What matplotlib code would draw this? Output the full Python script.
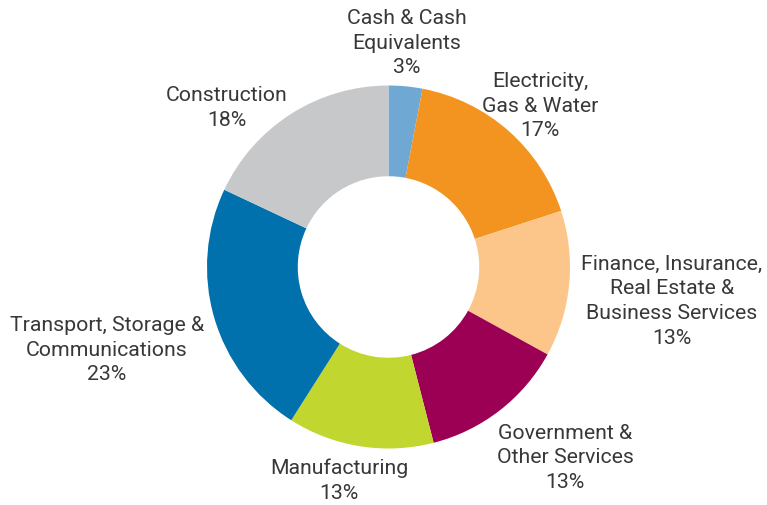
#!/usr/bin/env python3
"""
Sector allocation donut chart.
"""

import matplotlib.pyplot as plt

# slice data, clockwise from 12 o'clock
sectors = [
    "Cash & Cash\nEquivalents",
    "Electricity,\nGas & Water",
    "Finance, Insurance,\nReal Estate &\nBusiness Services",
    "Government &\nOther Services",
    "Manufacturing",
    "Transport, Storage &\nCommunications",
    "Construction",
]
shares = [3, 17, 13, 13, 13, 23, 18]
colors = ["#6fa8d2", "#f39320", "#fcc68a", "#9b0055", "#c1d72f", "#0071ad", "#c7c8ca"]

# label anchor points (pixels, from top-left of the image)
label_pos = [(407, 43), (540, 106), (672, 301), (565, 458), (339, 481), (107, 350), (227, 108)]

W, H = 767, 506
fig = plt.figure(figsize=(W / 100, H / 100), dpi=100)
ax = fig.add_axes([0, 0, 1, 1])

cx, cy, r = 388.5, H - 268, 181.5
ax.pie(shares, colors=colors, startangle=90, counterclock=False,
       center=(cx, cy), radius=r, frame=True,
       wedgeprops=dict(width=r * 0.5, linewidth=0))
ax.set_xlim(0, W)
ax.set_ylim(0, H)
ax.set_aspect("equal")
ax.axis("off")

for name, val, (x, y) in zip(sectors, shares, label_pos):
    ax.text(x, H - y, f"{name}\n{val}%", ha="center", va="center",
            fontsize=15.3, family="Roboto", color="#383838", linespacing=1.38)

plt.savefig("out.png", dpi=100)
plt.close()
